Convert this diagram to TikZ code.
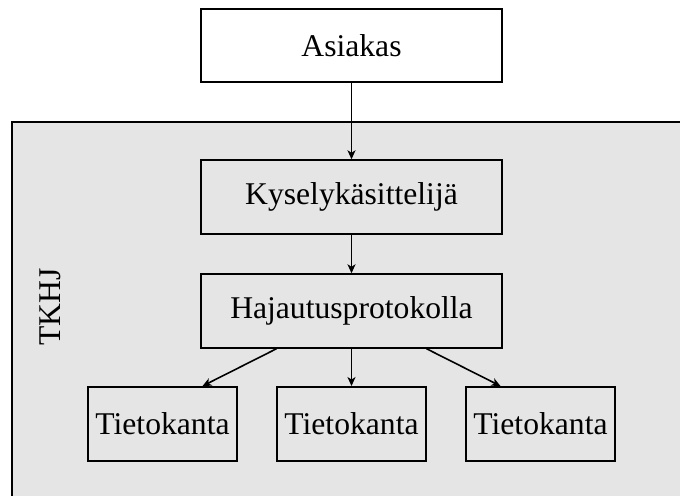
\documentclass[tikz,border=0pt]{standalone}
\usepackage{fontspec}
\setmainfont{Liberation Serif}
\usetikzlibrary{arrows.meta,positioning}
\definecolor{tkgray}{RGB}{229,229,229}

\begin{document}
\begin{tikzpicture}[
  every node/.style={font=\fontsize{18}{21}\selectfont},
  box/.style={draw,line width=1.1pt,inner sep=0pt,minimum width=6.02cm,minimum height=1.47cm,align=center},
  db/.style={draw,line width=1.1pt,inner sep=0pt,minimum width=2.98cm,minimum height=1.48cm},
  arr/.style={->,>={Stealth[length=0.18cm,width=0.16cm,inset=0.05cm]},line width=0.9pt}
]
\useasboundingbox (0,0) rectangle (13.6,-9.9);
\clip (0,0) rectangle (13.6,-9.9);
\draw[line width=1.1pt,fill=tkgray] (0.24,-2.44) rectangle (14,-10.5);
\node[rotate=90] (tkhj) at (1.0,-6.14) {TKHJ};

\node[box,fill=white] (as) at (7.03,-0.91) {Asiakas};
\node[box,fill=tkgray] (ky) at (7.03,-3.94) {Kyselykäsittelijä};
\node[box,fill=tkgray] (ha) at (7.03,-6.22) {Hajautusprotokolla};
\node[db,fill=tkgray] (tk1) at (3.25,-8.48) {Tietokanta};
\node[db,fill=tkgray] (tk2) at (7.03,-8.48) {Tietokanta};
\node[db,fill=tkgray] (tk3) at (10.81,-8.48) {Tietokanta};

\draw[arr] (as) -- (ky);
\draw[arr] (ky) -- (ha);
\draw[arr] ([xshift=-1.5cm]ha.south) -- ([xshift=0.8cm]tk1.north);
\draw[arr] (ha) -- (tk2);
\draw[arr] ([xshift=1.5cm]ha.south) -- ([xshift=-0.8cm]tk3.north);
\end{tikzpicture}
\end{document}
